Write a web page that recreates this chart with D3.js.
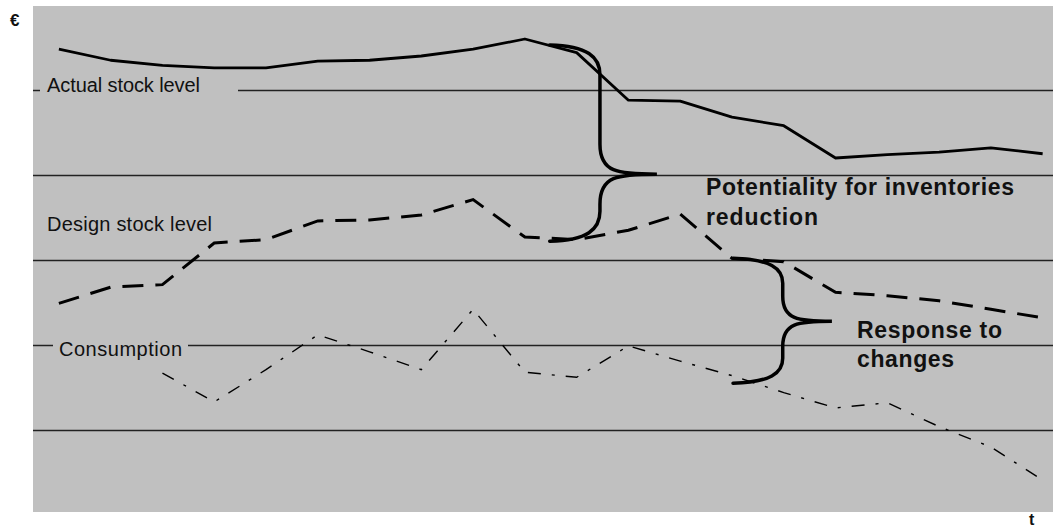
<!DOCTYPE html>
<html>
<head>
<meta charset="utf-8">
<script src="https://cdn.jsdelivr.net/npm/d3@7"></script>
<style>
  html, body { margin: 0; padding: 0; background: #ffffff; }
  svg { display: block; }
  text { font-family: "Liberation Sans", Arial, sans-serif; fill: #111; }
</style>
</head>
<body>
<svg id="chart" width="1053" height="528"></svg>
<script>
// ---- data ----
const periods = d3.range(1, 21); // t = 1..20
const actualStock = [5.48, 5.35, 5.29, 5.26, 5.26, 5.34, 5.35, 5.40, 5.48, 5.60,
                     5.44, 4.88, 4.87, 4.68, 4.58, 4.20, 4.24, 4.27, 4.32, 4.25];
const designStock = [2.49, 2.68, 2.71, 3.20, 3.24, 3.46, 3.47, 3.53, 3.71, 3.27,
                     3.24, 3.35, 3.54, 3.02, 2.98, 2.62, 2.58, 2.52, 2.42, 2.32];
const consumption = [null, null, 1.67, 1.33, 1.71, 2.12, 1.92, 1.71, 2.42, 1.68,
                     1.62, 1.99, 1.81, 1.64, 1.44, 1.26, 1.32, 1.04, 0.80, 0.41];
const gridValues = [1, 2, 3, 4, 5];
const seriesLabels = ["Actual stock level", "Design stock level", "Consumption"];
const braceNotes = [
  { tEnd: 10.48, tSpine: 11.45, tTip: 12.55, top: 5.53, mid: 4.01, bot: 3.22,
    lines: ["Potentiality for inventories", "reduction"] },
  { tEnd: 14.02, tSpine: 14.98, tTip: 15.93, top: 3.02, mid: 2.28, bot: 1.55,
    lines: ["Response to", "changes"] }
];
const yAxisLabel = "€";
const xAxisLabel = "t";

// ---- layout ----
const svg = d3.select("#chart");
const plot = { left: 33, right: 1053, top: 6, bottom: 512 };
const x = d3.scaleLinear().domain([0.5, 20.2]).range([plot.left, plot.right]);
const y = d3.scaleLinear().domain([0, 6]).range([515, 5]);

svg.append("rect")
  .attr("x", plot.left).attr("y", plot.top)
  .attr("width", plot.right - plot.left).attr("height", plot.bottom - plot.top)
  .attr("fill", "#c0c0c0");

// gridlines
svg.append("g").selectAll("line").data(gridValues).join("line")
  .attr("x1", plot.left).attr("x2", plot.right)
  .attr("y1", d => Math.round(y(d)) + 0.5).attr("y2", d => Math.round(y(d)) + 0.5)
  .attr("stroke", "#222").attr("stroke-width", 1.5);

// series labels (with background boxes masking the gridlines)
const labelSpecs = [
  { text: seriesLabels[0], x: 47, y: 92, w: 153, box: [40, 238] },
  { text: seriesLabels[1], x: 47, y: 231, w: 165, box: null },
  { text: seriesLabels[2], x: 59, y: 356, w: 123, box: [53, 188] }
];
labelSpecs.forEach(s => {
  if (s.box) {
    svg.append("rect").attr("x", s.box[0]).attr("y", s.y - 18)
      .attr("width", s.box[1] - s.box[0]).attr("height", 23).attr("fill", "#c0c0c0");
  }
  svg.append("text").attr("x", s.x).attr("y", s.y)
    .attr("font-size", 20).attr("textLength", s.w).attr("lengthAdjust", "spacing")
    .text(s.text);
});

const line = d3.line()
  .defined(d => d.v !== null)
  .x(d => x(d.t)).y(d => y(d.v));

const toPts = arr => periods.map((t, i) => ({ t, v: arr[i] }));

svg.append("path").datum(toPts(actualStock)).attr("d", line)
  .attr("fill", "none").attr("stroke", "#000").attr("stroke-width", 2.8)
  .attr("stroke-linejoin", "round");

svg.append("path").datum(toPts(designStock)).attr("d", line)
  .attr("fill", "none").attr("stroke", "#000").attr("stroke-width", 3)
  .attr("stroke-dasharray", "21,12");

svg.append("path").datum(toPts(consumption)).attr("d", line)
  .attr("fill", "none").attr("stroke", "#000").attr("stroke-width", 1.4)
  .attr("stroke-dasharray", "13,11,3,11");

// braces
function bracePath(b) {
  const xe = x(b.tEnd), xs = x(b.tSpine), xt = x(b.tTip);
  const yt = y(b.top), ym = y(b.mid), yb = y(b.bot);
  const w = xs - xe;
  const h = yb - yt;
  const r = Math.min(h * 0.2, 30);
  const p = d3.path();
  p.moveTo(xe, yt);
  p.bezierCurveTo(xe + w * 0.75, yt + 1, xs, yt + r * 0.4, xs, yt + r);
  p.lineTo(xs, ym - r);
  p.bezierCurveTo(xs, ym - 2, xs + (xt - xs) * 0.3, ym, xt, ym);
  p.bezierCurveTo(xs + (xt - xs) * 0.3, ym, xs, ym + 2, xs, ym + r);
  p.lineTo(xs, yb - r);
  p.bezierCurveTo(xs, yb - r * 0.4, xe + w * 0.75, yb - 1, xe, yb);
  return p.toString();
}
svg.append("g").selectAll("path").data(braceNotes).join("path")
  .attr("d", bracePath)
  .attr("fill", "none").attr("stroke", "#000").attr("stroke-width", 3.5)
  .attr("stroke-linecap", "round");

// brace notes
const noteSpecs = [
  { x: 706, ys: [195, 225], ws: [308, 112] },
  { x: 857, ys: [338, 367], ws: [145, 97] }
];
braceNotes.forEach((b, i) => {
  b.lines.forEach((ln, j) => {
    svg.append("text").attr("x", noteSpecs[i].x).attr("y", noteSpecs[i].ys[j])
      .attr("font-size", 23).attr("font-weight", "bold")
      .attr("textLength", noteSpecs[i].ws[j]).attr("lengthAdjust", "spacing")
      .text(ln);
  });
});

// axis labels
svg.append("text").attr("x", 10).attr("y", 26)
  .attr("font-size", 17).attr("font-weight", "bold").text(yAxisLabel);
svg.append("text").attr("x", 1029).attr("y", 525)
  .attr("font-size", 16).attr("font-weight", "bold").text(xAxisLabel);
</script>
</body>
</html>
